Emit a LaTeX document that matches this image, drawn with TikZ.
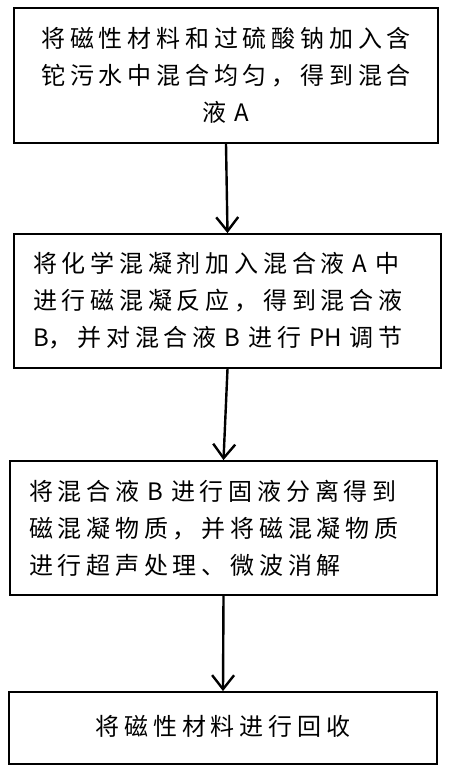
\documentclass[tikz,border=0pt]{standalone}
\usepackage{fontspec}
\newfontfamily\cjk[LetterSpace=20]{Noto Sans CJK SC}
\newfontfamily\latn{Noto Sans CJK SC}
\newcommand{\lt}[1]{{\latn #1}}
\usetikzlibrary{arrows.meta}
\tikzset{
  stepbox/.style={draw=black, line width=1.8pt, rectangle, inner xsep=19pt, inner ysep=0pt,
    font=\cjk\fontsize{24}{37}\selectfont},
  arr/.style={line width=2.4pt, -{Straight Barb[length=14pt,width=22pt,line width=2.4pt]}}
}
\begin{document}
\begin{tikzpicture}[x=1pt,y=-1pt]
\useasboundingbox (0,0) rectangle (450,773);
\fill[white] (0,0) rectangle (450,773);
\node[stepbox, minimum width=424pt, minimum height=135pt, text width=386pt, align=center] (b1) at (226,75.5)
  {将磁性材料和过硫酸钠加入含\\铊污水中混合均匀，得到混合\\液 \lt{A}};
\node[stepbox, minimum width=427pt, minimum height=134pt, text width=389pt, align=left] (b2) at (227.5,301)
  {将化学混凝剂加入混合液 \lt{A} 中\\进行磁混凝反应，得到混合液\\\lt{B}，并对混合液 \lt{B} 进行 \lt{PH} 调节};
\node[stepbox, minimum width=427pt, minimum height=134pt, text width=389pt, align=left] (b3) at (223.5,528)
  {将混合液 \lt{B} 进行固液分离得到\\磁混凝物质，并将磁混凝物质\\进行超声处理、微波消解};
\node[stepbox, minimum width=428pt, minimum height=72pt, text width=390pt, align=center] (b4) at (223,728)
  {将磁性材料进行回收\vphantom{g}\\[-4pt]};
\draw[arr] (b1.south) -- (b2.north);
\draw[arr] (b2.south) -- (b3.north);
\draw[arr] (b3.south) -- (b4.north);
\end{tikzpicture}
\end{document}
